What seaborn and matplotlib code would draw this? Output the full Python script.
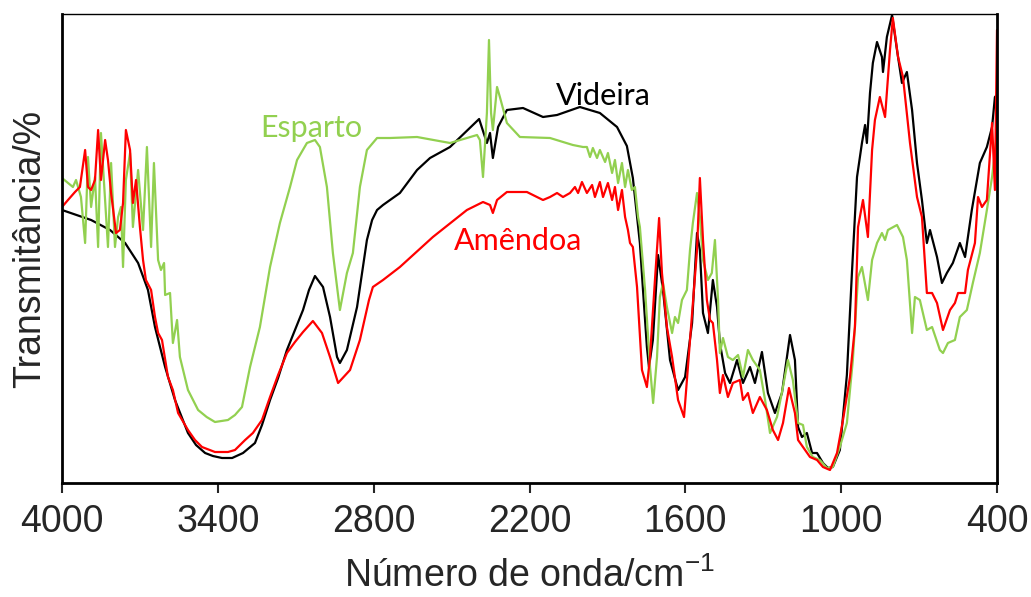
import matplotlib
matplotlib.use("Agg")
import matplotlib.pyplot as plt
import seaborn as sns
import pandas as pd

# ---- data (transmittance in arbitrary units) ----
videira_wn = [4000, 3888, 3815, 3757, 3707, 3669, 3642, 3603, 3565, 3515, 3484, 3449, 3419, 3384, 3345, 3303,
              3257, 3230, 3199, 3168, 3134, 3103, 3072, 3049, 3026, 2995, 2968, 2941, 2930, 2903, 2864, 2826,
              2806, 2787, 2764, 2737, 2699, 2633, 2583, 2506, 2394, 2364, 2352,
              2341, 2321, 2287, 2225, 2148, 2094, 2006, 1929, 1863, 1825, 1802, 1775, 1763, 1748, 1740, 1725,
              1705, 1686, 1659, 1628, 1601, 1574, 1555, 1544, 1532, 1513, 1494, 1478, 1467, 1447, 1428, 1401,
              1378, 1351, 1332, 1305, 1282, 1255, 1228, 1197, 1178, 1166, 1151, 1132, 1112, 1093, 1070, 1051,
              1032, 1005, 978, 958, 939, 920, 908, 901, 889, 878, 862, 843, 839, 824, 804, 785, 766, 747, 727,
              708, 689, 670, 658, 631, 612, 593, 570, 543, 523, 497, 466, 439, 419, 408, 400]
videira_t = [273, 263, 253, 240, 220, 193, 156, 116, 83, 50, 38, 30, 27, 25, 25, 30,
             40, 58, 83, 105, 133, 153, 173, 193, 207, 196, 166, 126, 120, 133, 176, 243,
             263, 273, 278, 283, 290, 313, 325, 336, 364, 340, 350,
             325, 356, 373, 375, 366, 368, 376, 370, 356, 337, 305, 240, 193, 136, 116, 143,
             228, 193, 123, 93, 106, 160, 250, 233, 170, 150, 203, 176, 140, 110, 100, 123,
             100, 116, 100, 131, 90, 70, 90, 148, 123, 56, 46, 50, 30, 30, 20, 15,
             16, 33, 108, 213, 306, 340, 358, 340, 390, 420, 441, 426, 411, 446, 468, 433, 400, 411, 373,
             320, 283, 240, 253, 226, 200, 210, 220, 240, 226, 273, 320, 336, 356, 386, 388]

amendoa_wn = [4000, 3977, 3950, 3931, 3911, 3900, 3888, 3873, 3861, 3850,
              3834, 3823, 3811, 3792, 3777, 3765, 3754, 3738, 3727, 3715,
              3700, 3688, 3677, 3657, 3642, 3630, 3615, 3592, 3573, 3553,
              3515, 3488, 3461, 3411, 3361, 3334, 3295, 3265, 3230, 3199, 3168, 3134, 3103, 3072, 3034,
              2999, 2968, 2937, 2891, 2853, 2833, 2818, 2803, 2764, 2699, 2572,
              2441, 2379, 2352, 2341, 2325, 2287, 2210, 2148, 2121, 2094,
              2071, 2044, 2025, 2013, 1998, 1979, 1959, 1948, 1929, 1917,
              1898, 1882, 1871, 1859, 1844, 1832, 1821, 1813, 1802, 1786,
              1767, 1748, 1736, 1717, 1701, 1690, 1671, 1651, 1628, 1605,
              1582, 1555, 1544, 1532, 1517, 1505, 1494, 1478, 1467, 1455,
              1436, 1417, 1390, 1378, 1359, 1340, 1313, 1286, 1263, 1243,
              1224, 1201, 1178, 1166, 1147, 1120, 1093, 1070, 1043, 1016,
              993, 966, 947, 935, 916, 897, 881, 870, 851, 831,
              812, 801, 781, 762, 735, 708, 689, 670, 650, 631,
              608, 581, 562, 550, 523, 512, 485, 473, 458, 439,
              419, 408, 400]
amendoa_t = [276, 283, 291, 296, 333, 296, 293, 303, 353, 303,
             343, 323, 290, 250, 253, 280, 353, 333, 280, 303,
             256, 223, 203, 193, 166, 150, 143, 106, 93, 70,
             53, 43, 36, 31, 31, 33, 43, 50, 63, 86, 108, 130, 141, 151, 162,
             150, 126, 100, 113, 143, 166, 183, 196, 203, 216, 246,
             273, 281, 278, 270, 283, 291, 291, 283, 286, 290,
             286, 290, 296, 290, 301, 290, 298, 286, 301, 286,
             300, 283, 296, 273, 293, 266, 253, 240, 236, 196,
             113, 96, 126, 203, 265, 210, 156, 126, 83, 66,
             143, 233, 305, 243, 183, 163, 160, 123, 90, 108,
             86, 100, 103, 83, 90, 70, 86, 73, 53, 43,
             60, 95, 70, 43, 36, 26, 23, 16, 13, 30,
             63, 106, 156, 256, 283, 246, 333, 363, 386, 366,
             433, 465, 426, 406, 340, 286, 266, 190, 190, 180,
             153, 173, 180, 190, 190, 213, 240, 286, 276, 283,
             360, 293, 453]

esparto_wn = [4000, 3977, 3958, 3946, 3927, 3911, 3900, 3888, 3873, 3861,
              3850, 3834, 3823, 3811, 3796, 3784, 3773, 3765, 3754, 3738,
              3727, 3707, 3688, 3673, 3657, 3646, 3630, 3619, 3607, 3603,
              3584, 3573, 3557, 3546, 3515, 3476, 3443, 3411, 3361, 3334, 3307, 3276,
              3238, 3199, 3161, 3122, 3095, 3057, 3026, 3007, 2980, 2957,
              2930, 2903, 2880, 2853, 2826, 2787, 2737, 2633, 2506, 2402,
              2391, 2379, 2364, 2356, 2348, 2341, 2325, 2314, 2287, 2237,
              2121, 2033, 1994, 1979, 1967, 1956, 1940, 1929, 1909, 1898,
              1882, 1871, 1859, 1844, 1832, 1821, 1806, 1794, 1782, 1775,
              1755, 1736, 1724, 1709, 1698, 1686, 1671, 1651, 1640, 1628,
              1613, 1594, 1582, 1571, 1555, 1544, 1532, 1513, 1498, 1486,
              1474, 1467, 1455, 1436, 1417, 1397, 1378, 1359, 1340, 1313,
              1293, 1274, 1247, 1224, 1205, 1186, 1166, 1147, 1132, 1109,
              1082, 1055, 1032, 1005, 978, 955, 935, 920, 897, 881,
              862, 843, 831, 820, 785, 762, 747, 735, 727, 716,
              697, 670, 650, 620, 608, 589, 562, 543, 516, 493,
              466, 439, 419, 400]
esparto_t = [305, 300, 296, 303, 286, 240, 326, 276, 306, 236,
             350, 283, 236, 320, 236, 266, 276, 216, 303, 330,
             256, 313, 253, 336, 236, 320, 223, 213, 220, 188,
             190, 140, 163, 126, 93, 73, 66, 61, 63, 68, 76, 116,
             156, 216, 260, 296, 323, 340, 343, 336, 296, 230,
             173, 210, 230, 296, 333, 345, 345, 346, 340, 348,
             343, 306, 370, 443, 370, 353, 396, 386, 360, 346,
             345, 338, 336, 336, 326, 335, 325, 333, 321, 330,
             310, 323, 300, 320, 296, 313, 293, 296, 266, 256,
             193, 116, 80, 126, 186, 200, 176, 150, 166, 160,
             183, 193, 233, 260, 290, 266, 223, 203, 210, 243,
             183, 130, 145, 126, 123, 128, 106, 133, 123, 113,
             83, 50, 66, 96, 123, 103, 60, 58, 36, 26,
             23, 15, 16, 36, 60, 123, 206, 216, 183, 223,
             240, 250, 243, 253, 258, 246, 223, 180, 150, 186,
             183, 153, 156, 133, 130, 140, 143, 166, 173, 200,
             230, 273, 306, 350]

series_names = ["Videira", "Esparto", "Amêndoa"]
xticks = [4000, 3400, 2800, 2200, 1600, 1000, 400]

# ---- plot ----
sns.set_style("white")
plt.rcParams["font.family"] = ["Liberation Sans", "DejaVu Sans"]
plt.rcParams["mathtext.default"] = "regular"

fig = plt.figure(figsize=(10.31, 5.97), dpi=100)
ax = fig.add_axes([62 / 1031, 1 - 483 / 597, 935 / 1031, 469 / 597])

data = {
    "Videira": (videira_wn, videira_t, "black"),
    "Esparto": (esparto_wn, esparto_t, "#92D050"),
    "Amêndoa": (amendoa_wn, amendoa_t, "#FF0000"),
}
for name in series_names:
    wn, t, col = data[name]
    df = pd.DataFrame({"wn": wn, "t": t})
    sns.lineplot(data=df, x="wn", y="t", sort=False, estimator=None, color=col,
                 linewidth=1.6, ax=ax, legend=False)

ax.set_xlim(4000, 400)
ax.set_ylim(0, 469)
ax.set_xticks(xticks)
ax.set_xticklabels([str(v) for v in xticks])
ax.set_yticks([])
ax.tick_params(axis="x", direction="out", length=7, width=1.5, pad=8, labelsize=27, bottom=True)

for side in ["left", "bottom", "right"]:
    ax.spines[side].set_linewidth(2.0)
    ax.spines[side].set_color("black")
ax.spines["top"].set_linewidth(1.0)
ax.spines["top"].set_color("black")

ax.set_xlabel("Número de onda/cm$^{-1}$", fontsize=27, labelpad=13)
ax.set_ylabel("Transmitância/%", fontsize=27, labelpad=10)

lab_font = ["Lato", "DejaVu Sans"]
ax.text(0.528, 0.806, "Videira", transform=ax.transAxes, color="black",
        fontsize=22, family=lab_font, ha="left", va="baseline")
ax.text(0.212, 0.738, "Esparto", transform=ax.transAxes, color="#92D050",
        fontsize=22, family=lab_font, ha="left", va="baseline")
ax.text(0.419, 0.497, "Amêndoa", transform=ax.transAxes, color="#FF0000",
        fontsize=22, family=lab_font, ha="left", va="baseline")

fig.savefig("out.png", dpi=100)
